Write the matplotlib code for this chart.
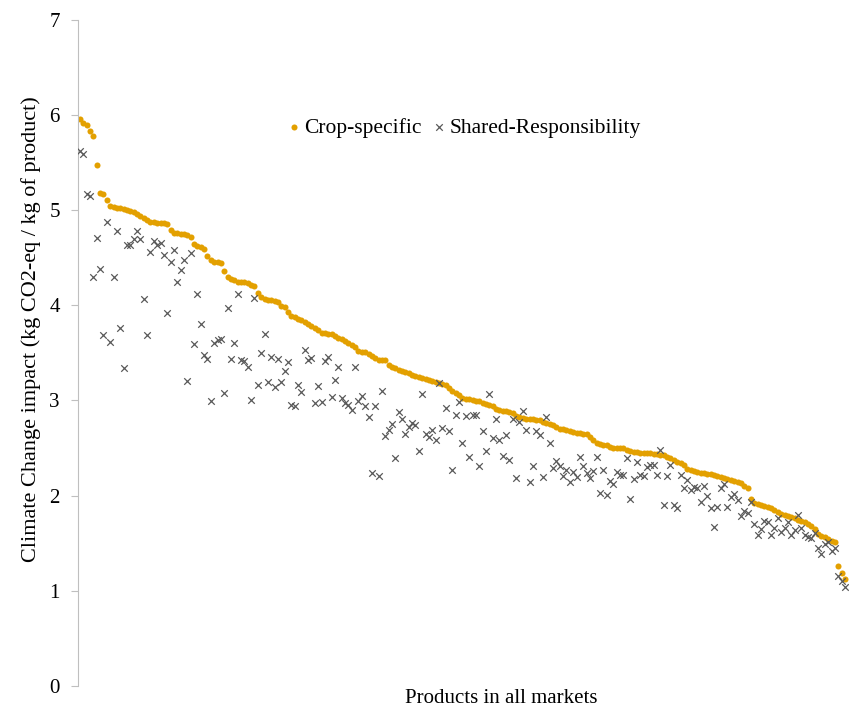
import numpy as np
import matplotlib
matplotlib.use("Agg")
import matplotlib.pyplot as plt

plt.rcParams['font.family'] = ['Liberation Serif', 'DejaVu Serif']

# crop-specific impact, sorted descending (kg CO2-eq / kg product)
crop_specific = [
    5.96, 5.92, 5.90, 5.83, 5.78, 5.47, 5.18, 5.17, 5.11, 5.04,
    5.03, 5.02, 5.02, 5.01, 5.00, 4.99, 4.98, 4.96, 4.94, 4.92,
    4.90, 4.88, 4.88, 4.87, 4.86, 4.86, 4.85, 4.79, 4.76, 4.76,
    4.75, 4.75, 4.74, 4.72, 4.64, 4.62,
    4.61, 4.59, 4.52, 4.48, 4.46, 4.45, 4.44, 4.36, 4.30, 4.28,
    4.27, 4.25, 4.24, 4.24, 4.23, 4.21, 4.20, 4.13, 4.09, 4.07,
    4.06, 4.06, 4.05, 4.03, 3.99, 3.98, 3.93, 3.89, 3.88, 3.86,
    3.85, 3.82, 3.80, 3.78, 3.76, 3.74,
    3.71, 3.71, 3.70, 3.70, 3.68, 3.66, 3.65, 3.62, 3.60, 3.58,
    3.56, 3.52, 3.51, 3.51, 3.49, 3.47, 3.45, 3.43, 3.43, 3.43,
    3.37, 3.35, 3.34, 3.32, 3.31, 3.30, 3.29, 3.27, 3.26, 3.25,
    3.24, 3.23, 3.22, 3.20, 3.19, 3.18,
    3.17, 3.16, 3.13, 3.10, 3.08, 3.06, 3.03, 3.02, 3.01, 3.00,
    2.99, 2.99, 2.97, 2.96, 2.95, 2.94, 2.91, 2.90, 2.89, 2.89,
    2.88, 2.87, 2.84, 2.83, 2.82, 2.81, 2.80, 2.80, 2.79, 2.79,
    2.77, 2.76, 2.75, 2.74, 2.72,
    2.70, 2.70, 2.69, 2.68, 2.67, 2.66, 2.66, 2.65, 2.65, 2.62,
    2.58, 2.55, 2.54, 2.53, 2.53, 2.51, 2.50, 2.50, 2.50, 2.50,
    2.48, 2.47, 2.46, 2.46, 2.45, 2.45, 2.45, 2.45, 2.44, 2.44,
    2.43, 2.43, 2.41, 2.39, 2.37, 2.35,
    2.34, 2.32, 2.28, 2.27, 2.26, 2.25, 2.24, 2.24, 2.23, 2.23,
    2.22, 2.21, 2.20, 2.19, 2.17, 2.16, 2.15, 2.14, 2.13, 2.10,
    2.08, 1.96, 1.92, 1.91, 1.90, 1.89, 1.88, 1.87, 1.85, 1.83,
    1.81, 1.80, 1.79, 1.77, 1.76, 1.74, 1.73, 1.72, 1.70, 1.68,
    1.65, 1.60, 1.58, 1.56, 1.54, 1.52, 1.51, 1.26, 1.19, 1.12,
]

# shared-responsibility impact for the same products
shared = [
    5.62, 5.59, 5.17, 5.15, 4.30, 4.71, 4.38, 3.69, 4.88, 3.61,
    4.30, 4.78, 3.76, 3.34, 4.63, 4.63, 4.70, 4.78, 4.70, 4.07,
    3.69, 4.56, 4.68, 4.63, 4.66, 4.53, 3.92, 4.46, 4.58, 4.25,
    4.37, 4.48, 3.20, 4.55, 3.59, 4.12,
    3.80, 3.48, 3.44, 2.99, 3.60, 3.64, 3.65, 3.08, 3.97, 3.44,
    3.60, 4.12, 3.42, 3.41, 3.35, 3.00, 4.08, 3.16, 3.50, 3.70,
    3.19, 3.46, 3.14, 3.44, 3.19, 3.31, 3.40, 2.95, 2.94, 3.16,
    3.09, 3.53, 3.42, 3.45, 2.97, 3.15,
    2.98, 3.41, 3.46, 3.04, 3.22, 3.35, 3.03, 2.97, 2.95, 2.90,
    3.35, 2.99, 3.05, 2.94, 2.83, 2.24, 2.94, 2.21, 3.10, 2.63,
    2.69, 2.75, 2.40, 2.88, 2.81, 2.65, 2.72, 2.76, 2.74, 2.47,
    3.07, 2.65, 2.62, 2.69, 2.58, 3.18, 2.71,
    2.92, 2.68, 2.27, 2.85, 2.98, 2.55, 2.84, 2.41, 2.85, 2.85,
    2.31, 2.68, 2.47, 3.07, 2.61, 2.81, 2.58, 2.42, 2.64, 2.37,
    2.80, 2.19, 2.77, 2.89, 2.69, 2.14, 2.31, 2.68, 2.64, 2.20,
    2.83, 2.55, 2.29, 2.36, 2.31,
    2.21, 2.27, 2.14, 2.25, 2.20, 2.41, 2.31, 2.24, 2.18, 2.26,
    2.41, 2.03, 2.27, 2.01, 2.15, 2.12, 2.25, 2.22, 2.22, 2.40,
    1.96, 2.17, 2.35, 2.22, 2.21, 2.30, 2.32, 2.32, 2.22, 2.48,
    1.90, 2.21, 2.32, 1.90, 1.87, 2.22,
    2.08, 2.16, 2.06, 2.09, 2.08, 1.93, 2.10, 2.00, 1.87, 1.67,
    1.88, 2.08, 2.12, 1.88, 1.99, 2.02, 1.95, 1.79, 1.84, 1.82,
    1.93, 1.70, 1.59, 1.65, 1.73, 1.72, 1.59, 1.66, 1.76, 1.62,
    1.66, 1.72, 1.59, 1.64, 1.80, 1.66, 1.59, 1.56, 1.55, 1.61,
    1.45, 1.39, 1.49, 1.51, 1.42, 1.45, 1.15, 1.10, 1.04,
]

n = len(crop_specific)
x = np.arange(1, n + 1)

fig = plt.figure(figsize=(8.54, 7.10), dpi=100)
ax = fig.add_axes([0.0913, 0.034, 0.902, 0.938])

ax.scatter(x, crop_specific, s=19, color='#E3A000', marker='o', linewidths=0,
           label='Crop-specific', zorder=2)
ax.scatter(x, shared, s=22, color='#595959', marker='x', linewidths=0.9,
           label='Shared-Responsibility', zorder=3)

ax.set_xlim(0.4, n + 1.0)
ax.set_ylim(0, 7)
ax.set_yticks(range(0, 8))
ax.set_xticks([])
ax.tick_params(axis='y', labelsize=15, length=5, color='#BFBFBF', pad=8)
for side in ['top', 'right', 'bottom']:
    ax.spines[side].set_visible(False)
ax.spines['left'].set_color('#BFBFBF')

ax.set_ylabel("Climate Change impact (kg CO2-eq / kg of product)", fontsize=16, labelpad=6)
ax.yaxis.label.set_y(0.535)
ax.set_xlabel("Products in all markets", fontsize=15)
ax.xaxis.set_label_coords(0.549, -0.005, transform=ax.transAxes)
ax.xaxis.label.set_va('top')

ax.legend(loc='center', bbox_to_anchor=(0.5, 0.838), ncol=2, frameon=False,
          fontsize=15.5, handlelength=0.8, handletextpad=0.1, columnspacing=0.4)

plt.savefig("out.png")
